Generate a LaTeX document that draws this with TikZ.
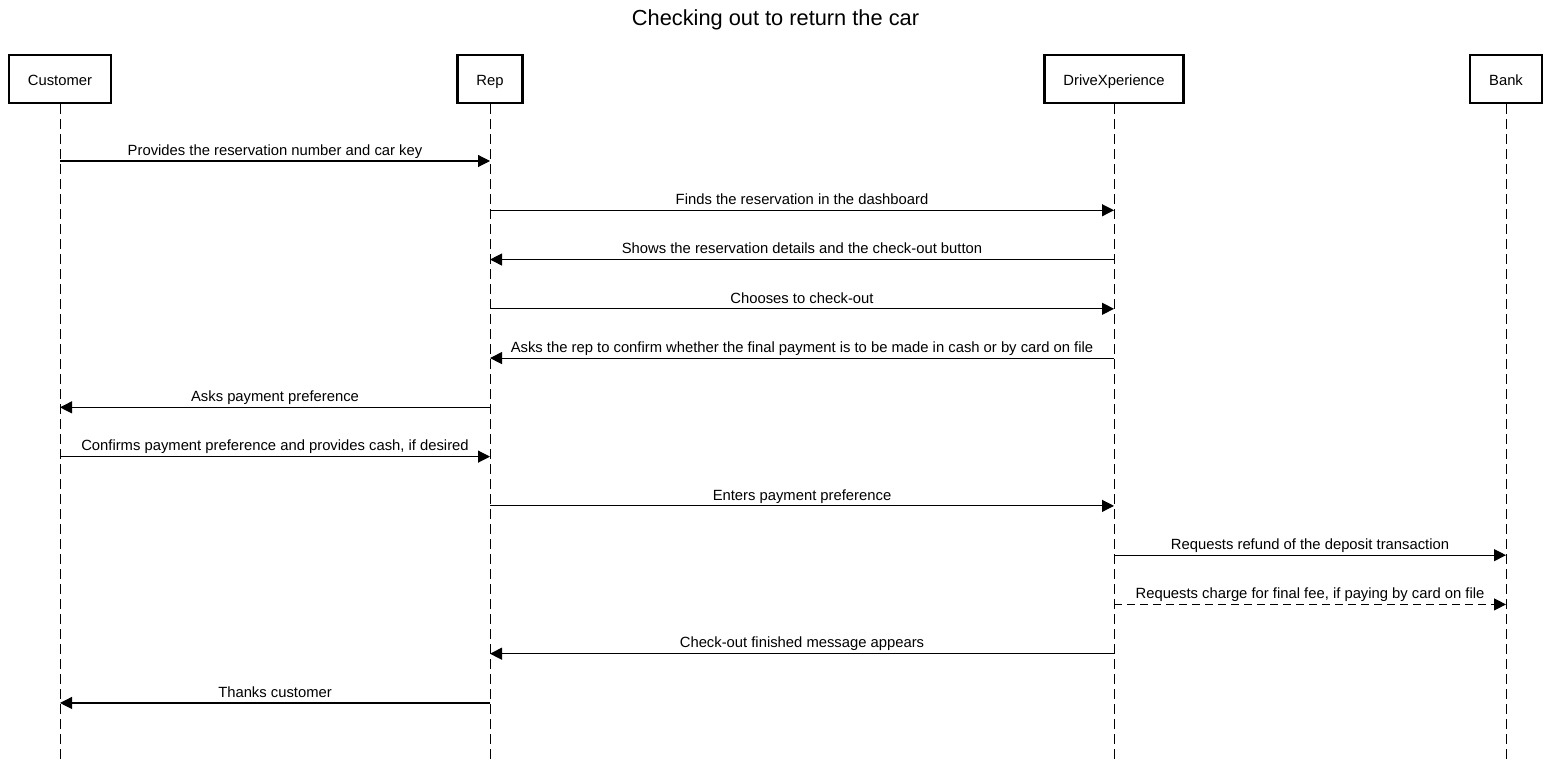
\documentclass[tikz,border=0pt]{standalone}
\usepackage{fontspec}
\setmainfont{Liberation Sans}
\usetikzlibrary{arrows.meta,positioning,calc}

\begin{document}
\begin{tikzpicture}[x=0.5pt,y=-0.5pt,
  actor/.style={draw,line width=1.3pt,inner xsep=9.5pt,minimum height=24pt,
    text height=7pt,text depth=0pt,font=\fontsize{7.4}{9}\selectfont},
  life/.style={line width=0.5pt,dash pattern=on 5pt off 2.5pt},
  msg/.style={line width=0.55pt,-{Triangle[length=6pt,width=6pt]}},
  optmsg/.style={msg,dash pattern=on 4pt off 2.5pt},
  lbl/.style={above,inner sep=1pt,text height=5.5pt,text depth=1.6pt,font=\fontsize{7.4}{9}\selectfont}]
\useasboundingbox (0,0) rectangle (1551,764);
\node[font=\fontsize{10.9}{13}\selectfont] (title) at (775.5,20) {Checking out to return the car};
% participants
\node[actor] (cust) at (60,79) {Customer};
\node[actor] (rep) at (490,79) {Rep};
\node[actor] (dx) at (1114,79) {DriveXperience};
\node[actor] (bank) at (1506,79) {Bank};
\coordinate (bottom) at (0,764);
\foreach \n in {cust,rep,dx,bank}
  \draw[life] (\n.south) -- (\n |- bottom);
% message rows
\foreach \i in {1,...,12}
  \coordinate (m\i) at (0,{161+49.27*(\i-1)});
\draw[msg] (cust |- m1) -- node[lbl] {Provides the reservation number and car key} (rep |- m1);
\draw[msg] (rep |- m2) -- node[lbl] {Finds the reservation in the dashboard} (dx |- m2);
\draw[msg] (dx |- m3) -- node[lbl] {Shows the reservation details and the check-out button} (rep |- m3);
\draw[msg] (rep |- m4) -- node[lbl] {Chooses to check-out} (dx |- m4);
\draw[msg] (dx |- m5) -- node[lbl] {Asks the rep to confirm whether the final payment is to be made in cash or by card on file} (rep |- m5);
\draw[msg] (rep |- m6) -- node[lbl] {Asks payment preference} (cust |- m6);
\draw[msg] (cust |- m7) -- node[lbl] {Confirms payment preference and provides cash, if desired} (rep |- m7);
\draw[msg] (rep |- m8) -- node[lbl] {Enters payment preference} (dx |- m8);
\draw[msg] (dx |- m9) -- node[lbl] {Requests refund of the deposit transaction} (bank |- m9);
\draw[optmsg] (dx |- m10) -- node[lbl] {Requests charge for final fee, if paying by card on file} (bank |- m10);
\draw[msg] (dx |- m11) -- node[lbl] {Check-out finished message appears} (rep |- m11);
\draw[msg] (rep |- m12) -- node[lbl] {Thanks customer} (cust |- m12);
\end{tikzpicture}
\end{document}
